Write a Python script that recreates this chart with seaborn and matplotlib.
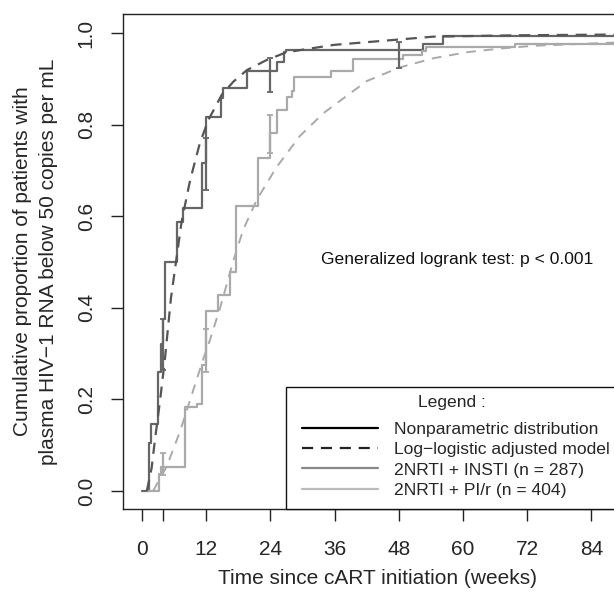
import numpy as np
import pandas as pd
import seaborn as sns
import matplotlib.pyplot as plt
from matplotlib.lines import Line2D
from matplotlib.patches import Rectangle

# step (nonparametric) curves: time of jump (weeks), cumulative proportion after jump
insti_t = [0, 1.3, 1.6, 3.05, 3.5, 3.9, 4.3, 6.5, 7.7, 11.3, 12.0, 14.8, 15.2, 19.6, 25.2, 26.6, 27.0, 52.5, 56.3, 92]
insti_p = [0, 0.105, 0.146, 0.26, 0.32, 0.375, 0.50, 0.588, 0.617, 0.716, 0.817, 0.857, 0.879, 0.916, 0.937, 0.959, 0.963, 0.975, 0.993, 0.993]

pir_t = [1.2, 3.2, 3.5, 8.0, 10.2, 11.2, 12.0, 14.2, 16.4, 17.6, 21.6, 24.0, 25.3, 27.1, 28.0, 28.4, 35.3, 39.5, 48.8, 52.3, 53.0, 69.7, 92]
pir_p = [0, 0.037, 0.053, 0.183, 0.19, 0.275, 0.392, 0.428, 0.479, 0.622, 0.726, 0.782, 0.832, 0.860, 0.874, 0.903, 0.916, 0.943, 0.952, 0.961, 0.970, 0.976, 0.976]

# confidence bars
insti_ci_t = [4, 12, 24, 48]
insti_ci_lo = [0.264, 0.657, 0.872, 0.923]
insti_ci_hi = [0.375, 0.770, 0.945, 0.981]
pir_ci_t = [4, 12, 24]
pir_ci_lo = [0.035, 0.260, 0.737]
pir_ci_hi = [0.082, 0.353, 0.821]

# log-logistic fitted curves
ll_insti_t = [0.9, 1.8, 2.4, 3.4, 4.3, 5.4, 7.4, 9.0, 10.8, 12.4, 14.9, 17.1, 19.6, 23.3, 27, 35.8, 48.2, 54.4, 70, 92]
ll_insti_p = [0.0, 0.05, 0.11, 0.20, 0.29, 0.42, 0.588, 0.679, 0.759, 0.81, 0.865, 0.894, 0.919, 0.941, 0.958, 0.974, 0.986, 0.992, 0.995, 0.997]
ll_pir_t = [2.1, 3.0, 4.6, 7.1, 9.3, 11.5, 12.7, 14.6, 17.1, 18.9, 21.4, 25.2, 29.5, 33.9, 37.6, 42, 48.2, 54.5, 60.7, 66.9, 73.1, 88, 92]
ll_pir_p = [0.0, 0.02, 0.053, 0.13, 0.21, 0.29, 0.33, 0.40, 0.504, 0.57, 0.635, 0.708, 0.775, 0.825, 0.857, 0.895, 0.925, 0.945, 0.958, 0.966, 0.972, 0.979, 0.980]

xticks = [0, 4, 12, 24, 36, 48, 60, 72, 84]
xticklabels = ['0', '', '12', '24', '36', '48', '60', '72', '84']
yticks = [0.0, 0.2, 0.4, 0.6, 0.8, 1.0]

legend_labels = ['Nonparametric distribution', 'Log\u2212logistic adjusted model',
                 '2NRTI + INSTI (n = 287)', '2NRTI + PI/r (n = 404)']

sns.set_style('ticks')
plt.rcParams['font.family'] = ['Liberation Sans', 'DejaVu Sans']

W, H = 614, 596
fig = plt.figure(figsize=(W / 100, H / 100), dpi=100)
ax = fig.add_axes([123 / W, 1 - 509 / H, (631.6 - 123) / W, (509 - 14) / H])

dark = '#666666'
light = '#aaaaaa'

sns.lineplot(x=insti_t, y=insti_p, ax=ax, color=dark, lw=1.6, drawstyle='steps-post', estimator=None)
sns.lineplot(x=pir_t, y=pir_p, ax=ax, color=light, lw=1.6, drawstyle='steps-post', estimator=None)
sns.lineplot(x=ll_insti_t, y=ll_insti_p, ax=ax, color='#555555', lw=1.6, linestyle=(0, (5, 3.5)), estimator=None)
sns.lineplot(x=ll_pir_t, y=ll_pir_p, ax=ax, color=light, lw=1.4, linestyle=(0, (5, 4)), estimator=None)

for t, lo, hi, c in [(insti_ci_t, insti_ci_lo, insti_ci_hi, dark), (pir_ci_t, pir_ci_lo, pir_ci_hi, light)]:
    lo = np.array(lo)
    hi = np.array(hi)
    ax.errorbar(t, lo, yerr=[np.zeros_like(lo), hi - lo], fmt='none', ecolor=c, elinewidth=1.6, capsize=2.5, capthick=1.3)

ax.set_xlim(-3.55, 91.5)
ax.set_ylim(-0.0393, 1.0415)
ax.set_xticks(xticks)
ax.set_xticklabels(xticklabels)
ax.set_yticks(yticks)
ax.set_yticklabels([f'{v:.1f}' for v in yticks], rotation=90, va='center')
ax.tick_params(length=8.6, width=1, color='#222222', labelsize=15)
ax.tick_params(axis='x', pad=14)
ax.tick_params(axis='y', pad=11)
for s in ax.spines.values():
    s.set_color('#222222')
    s.set_linewidth(1)

ax.set_xlabel('Time since cART initiation (weeks)', fontsize=15, labelpad=7)
ax.set_ylabel('')
fig.text(23 / W, 1 - 261.5 / H, 'Cumulative proportion of patients with', rotation=90,
         ha='center', va='center', fontsize=15)
fig.text(49 / W, 1 - 261.5 / H, 'plasma HIV\u22121 RNA below 50 copies per mL', rotation=90,
         ha='center', va='center', fontsize=15)

fig.text(457 / W, 1 - 260 / H, 'Generalized logrank test: p < 0.001',
         ha='center', va='center', fontsize=12.6, color='#111111')

# legend box (runs past the right edge like the cropped original)
box = Rectangle((286 / W, 1 - 509 / H), 400 / W, (509 - 387) / H, transform=fig.transFigure,
                facecolor='white', edgecolor='#111111', lw=1, clip_on=False, zorder=4)
ax.add_patch(box)
fig.text(452 / W, 1 - 403 / H, 'Legend :', ha='center', va='center', fontsize=12.6, zorder=6)

handles = [Line2D([], [], color='black', lw=1.6),
           Line2D([], [], color='#222222', lw=1.6, linestyle=(0, (5, 3.5))),
           Line2D([], [], color='#888888', lw=1.6),
           Line2D([], [], color='#bbbbbb', lw=1.6)]
leg = ax.legend(handles, legend_labels, loc='upper left',
                bbox_to_anchor=(302 / W, 1 - 422 / H), bbox_transform=fig.transFigure,
                fontsize=12.6, frameon=False, borderaxespad=0, borderpad=0,
                handlelength=4.34, handletextpad=0.91, labelspacing=0.28)
leg.set_zorder(6)

fig.savefig('out.png', dpi=100)
